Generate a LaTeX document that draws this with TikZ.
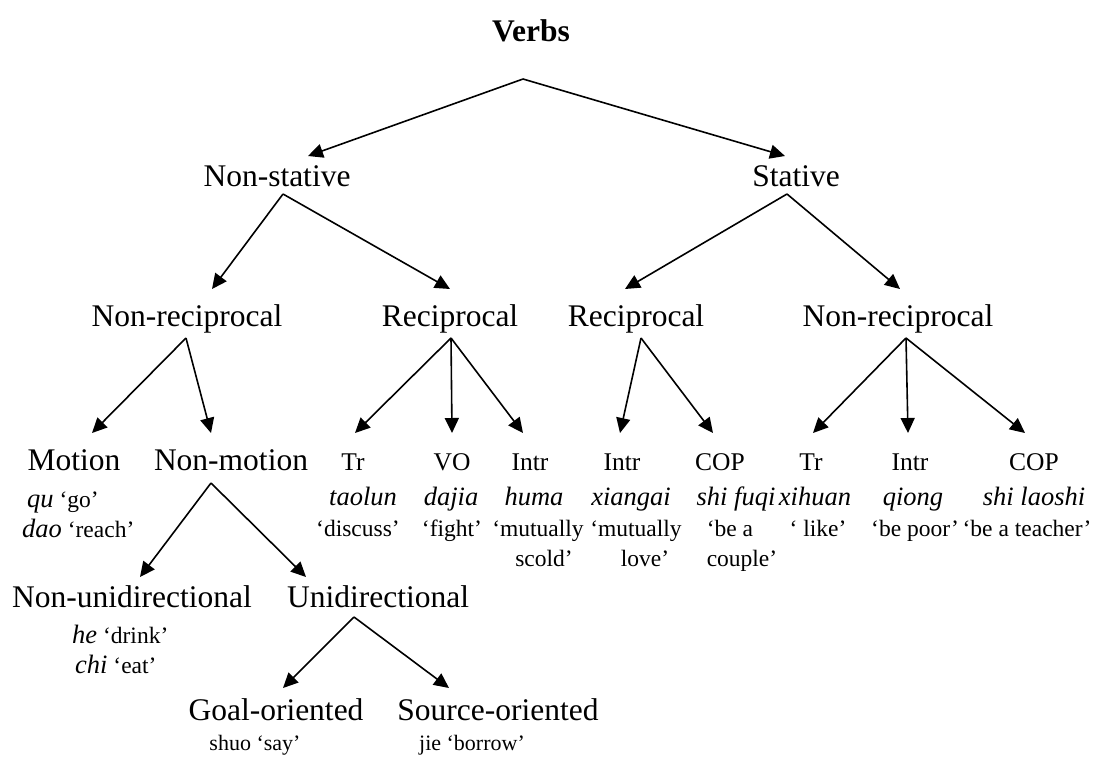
\documentclass[tikz,border=0pt]{standalone}
\usepackage{fontspec}
\setmainfont{Liberation Serif}
\usetikzlibrary{arrows.meta}
\newcommand\bigf{\fontsize{31.5}{36}\selectfont}
\newcommand\midf{\fontsize{25.5}{30}\selectfont}
\newcommand\glf{\fontsize{23.5}{28}\selectfont}
\newcommand\itf{\fontsize{26.5}{30}\selectfont\itshape}
\newcommand\btf{\fontsize{22}{26}\selectfont}
\tikzset{
  big/.style={inner sep=0pt, anchor=base, font=\bigf},
  mid/.style={inner sep=0pt, anchor=base, font=\midf},
  gl/.style={inner sep=0pt, anchor=base, font=\glf},
  it/.style={inner sep=0pt, anchor=base, font=\itf},
  exl/.style={inner sep=0pt, anchor=base west, font=\glf},
  bt/.style={inner sep=0pt, anchor=base, font=\btf},
  arr/.style={-{Triangle[length=15pt,width=14pt]}, line width=1.6pt}
}
\begin{document}
\begin{tikzpicture}[x=1pt,y=-1pt]
\useasboundingbox (0,0) rectangle (1095,756);
% level 0
\node[big, font=\bigf\bfseries] (verbs) at (531,41) {Verbs};
% level 1
\node[big] (nonstat) at (277,186) {Non-stative};
\node[big] (stat) at (796,186) {Stative};
% level 2
\node[big] (nrecL) at (187,326) {Non-reciprocal};
\node[big] (recL) at (450,326) {Reciprocal};
\node[big] (recR) at (636,326) {Reciprocal};
\node[big] (nrecR) at (898,326) {Non-reciprocal};
% level 3
\node[big] (motion) at (74,470) {Motion};
\node[big] (nonmotion) at (231,470) {Non-motion};
\node[mid] (trL) at (353,470) {Tr};
\node[mid] (vo) at (452,470) {VO};
\node[mid] (intrL) at (530,470) {Intr};
\node[mid] (intrR) at (622,470) {Intr};
\node[mid] (copL) at (720,470) {COP};
\node[mid] (trR) at (811,470) {Tr};
\node[mid] (intrR2) at (910,470) {Intr};
\node[mid] (copR) at (1034,470) {COP};
% examples level 3
\node[exl] (qu) at (27,507) {{\itf qu} `go'};
\node[exl] (dao) at (22,537) {{\itf dao} `reach'};
\node[it] (taolun) at (363,505) {taolun};
\node[gl] (discuss) at (358,536) {`discuss'};
\node[it] (dajia) at (451,505) {dajia};
\node[gl] (fight) at (452,536) {`fight'};
\node[it] (huma) at (534,505) {huma};
\node[gl] (mut1) at (538,536) {`mutually};
\node[gl] (scold) at (544,566) {scold'};
\node[it] (xiangai) at (631,505) {xiangai};
\node[gl] (mut2) at (636,536) {`mutually};
\node[gl] (love) at (645,566) {love'};
\node[it] (shifuqi) at (736,505) {shi fuqi};
\node[gl] (bea) at (730,536) {`be a};
\node[gl] (couple) at (742,566) {couple'};
\node[it] (xihuan) at (815,505) {xihuan};
\node[gl] (like) at (818,536) {` like'};
\node[it] (qiong) at (913,505) {qiong};
\node[gl] (poor) at (915,536) {`be poor'};
\node[it] (shilaoshi) at (1034,505) {shi laoshi};
\node[gl] (teacher) at (1027,536) {`be a teacher'};
% level 4
\node[big] (nonuni) at (132,607) {Non-unidirectional};
\node[big] (uni) at (378,607) {Unidirectional};
\node[exl] (he) at (72,643) {{\itf he} `drink'};
\node[exl] (chi) at (75,673) {{\itf chi} `eat'};
% level 5
\node[big] (goal) at (276,720) {Goal-oriented};
\node[big] (source) at (498,720) {Source-oriented};
\node[bt] (shuo) at (255,750) {shuo `say'};
\node[bt] (jie) at (472,750) {jie `borrow'};
% connector points
\coordinate (verbsA) at (523,79);
\coordinate (nonstatT) at (308,156);
\coordinate (statT) at (785,156);
\coordinate (nonstatA) at (283,194);
\coordinate (nrecLT) at (212,289);
\coordinate (recLT) at (450,289);
\coordinate (statA) at (787,194);
\coordinate (recRT) at (625,289);
\coordinate (nrecRT) at (900,289);
\coordinate (nrecLA) at (186,338);
\coordinate (motionT) at (92,433);
\coordinate (nonmotionT) at (211,433);
\coordinate (recLA) at (451,338);
\coordinate (trLT) at (355,433);
\coordinate (voT) at (452,433);
\coordinate (intrLT) at (523,433);
\coordinate (recRA) at (641,338);
\coordinate (intrRT) at (620,433);
\coordinate (copLT) at (713,433);
\coordinate (nrecRA) at (906,338);
\coordinate (trRT) at (813,433);
\coordinate (intrR2T) at (908,433);
\coordinate (copRT) at (1025,433);
\coordinate (nonmotionA) at (211,483);
\coordinate (nonuniT) at (140,577);
\coordinate (uniT) at (306,577);
\coordinate (uniA) at (354,617);
\coordinate (goalT) at (283,688);
\coordinate (sourceT) at (449,688);
% connectors
\draw[arr] (verbsA) -- (nonstatT);
\draw[arr] (verbsA) -- (statT);
\draw[arr] (nonstatA) -- (nrecLT);
\draw[arr] (nonstatA) -- (recLT);
\draw[arr] (statA) -- (recRT);
\draw[arr] (statA) -- (nrecRT);
\draw[arr] (nrecLA) -- (motionT);
\draw[arr] (nrecLA) -- (nonmotionT);
\draw[arr] (recLA) -- (trLT);
\draw[arr] (recLA) -- (voT);
\draw[arr] (recLA) -- (intrLT);
\draw[arr] (recRA) -- (intrRT);
\draw[arr] (recRA) -- (copLT);
\draw[arr] (nrecRA) -- (trRT);
\draw[arr] (nrecRA) -- (intrR2T);
\draw[arr] (nrecRA) -- (copRT);
\draw[arr] (nonmotionA) -- (nonuniT);
\draw[arr] (nonmotionA) -- (uniT);
\draw[arr] (uniA) -- (goalT);
\draw[arr] (uniA) -- (sourceT);
\end{tikzpicture}
\end{document}
